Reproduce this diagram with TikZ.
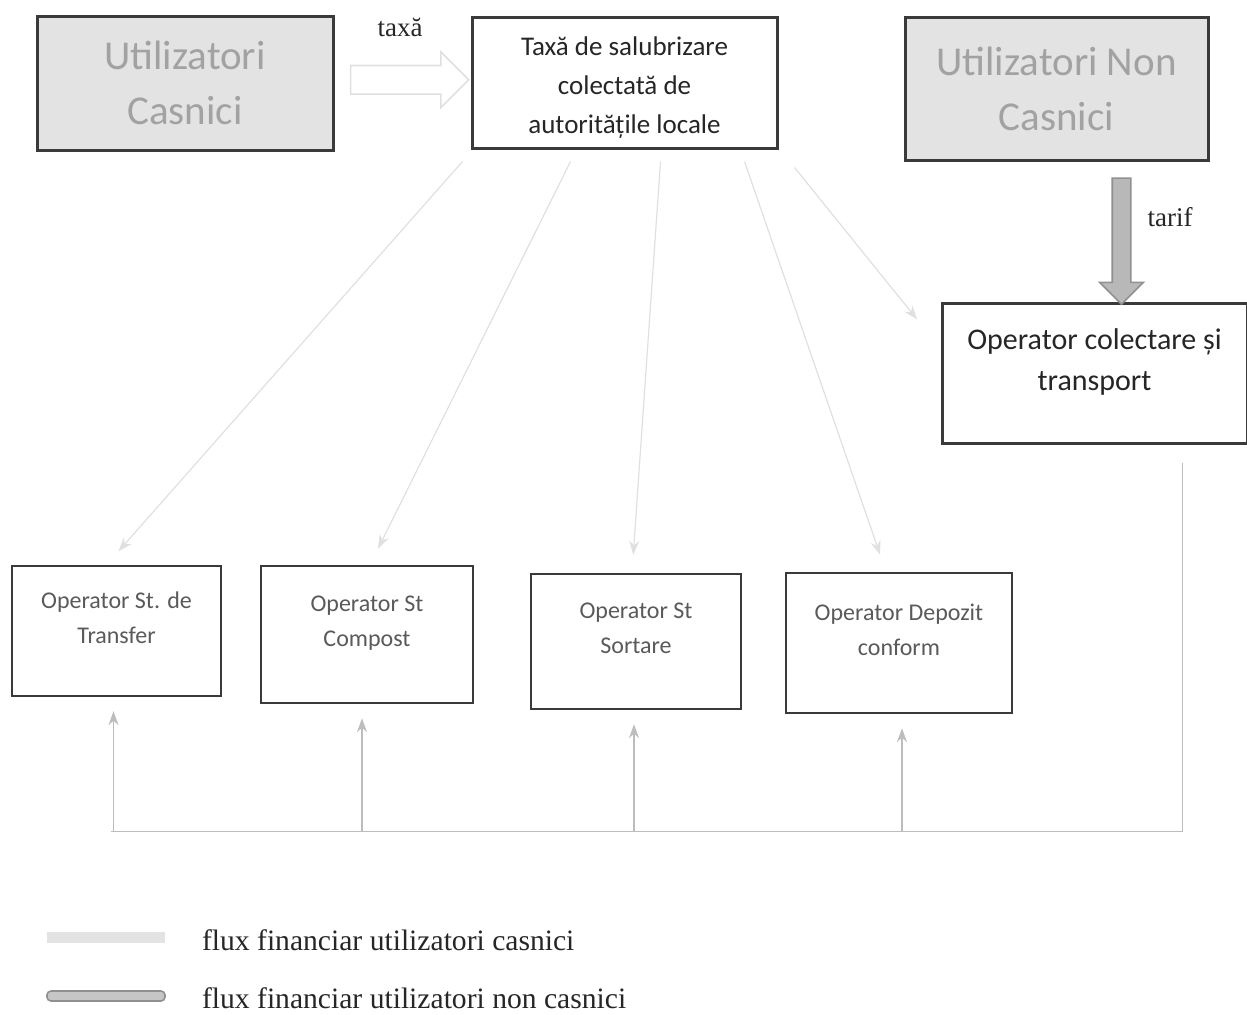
\documentclass[tikz,border=0pt]{standalone}
\usepackage{fontspec}
\setmainfont{Liberation Serif}
\newfontfamily\carlito{Carlito}
\usepackage{tikz}
\usetikzlibrary{arrows.meta,calc,shapes.arrows}

\definecolor{boxline}{HTML}{3A3A3A}
\definecolor{userfill}{HTML}{E3E3E3}
\definecolor{usertext}{HTML}{A2A2A2}
\definecolor{optext}{HTML}{5A5A5A}
\definecolor{hhline}{HTML}{E0E0E0}
\definecolor{nhline}{HTML}{BDBDBD}
\definecolor{tariffill}{HTML}{B8B8B8}
\definecolor{tarifline}{HTML}{909090}

\begin{document}
\begin{tikzpicture}[x=0.5pt,y=-0.5pt,>={Stealth[length=7pt,width=5pt]},
                    user node/.style={rectangle,draw=boxline,fill=userfill,line width=1.5pt,text=usertext,
                                      align=center,font=\carlito\fontsize{20.5}{27.5}\selectfont},
                    main node/.style={rectangle,draw=boxline,fill=white,line width=1.5pt,align=center,text=black!85},
                    op node/.style={main node,line width=1.2pt,text=optext,font=\carlito\fontsize{12}{17.5}\selectfont,text depth=13pt},
                    hh flow/.style={->,draw=hhline,line width=0.6pt,shorten >=9pt},
                    nh flow/.style={draw=nhline,line width=0.6pt},
                    lbl/.style={font=\fontsize{13.5}{16}\selectfont,text=black!85},
                    legend lbl/.style={font=\fontsize{14.8}{17}\selectfont,text=black!85,anchor=west}]
  \useasboundingbox (0,0) rectangle (1247,1014);

  % top row
  \node[user node, minimum width=148pt, minimum height=67pt] (uc) at (185,83) {Utilizatori\\Casnici};
  \node[main node, minimum width=152.5pt, minimum height=65.5pt, text height=53pt, font=\carlito\fontsize{13.5}{19.5}\selectfont] (taxa) at (624.5,82.5)
       {Taxă de salubrizare\\colectată de\\autoritățile locale};
  \node[user node, minimum width=151.5pt, minimum height=71.5pt] (unc) at (1056.5,88.5) {Utilizatori Non\\Casnici};
  \node[main node, minimum width=152.5pt, minimum height=70pt, text depth=13pt, font=\carlito\fontsize{15}{20.5}\selectfont] (colectare) at (1094.5,373)
       {Operator colectare și\\transport};

  % operators
  \node[op node, minimum width=104.5pt, minimum height=65pt] (transfer) at (116.5,631) {Operator St. de\\Transfer};
  \node[op node, minimum width=106pt, minimum height=68.5pt] (compost) at (367,634.5) {Operator St\\Compost};
  \node[op node, minimum width=105pt, minimum height=67.5pt] (sortare) at (636,641.5) {Operator St\\Sortare};
  \node[op node, minimum width=113pt, minimum height=70pt] (depozit) at (899,643) {Operator Depozit\\conform};

  % block arrows
  \node[single arrow, draw=hhline, line width=0.8pt, fill=white, inner sep=0pt, minimum height=59pt, minimum width=27pt,
        text height=13.5pt, single arrow head extend=6.75pt] (taxaarrow) at ($(uc.east)!0.5!(taxa.west)+(0,-3)$) {};
  \node[lbl] (taxalbl) at (400,27) {taxă};
  \node[single arrow, shape border rotate=270, draw=tarifline, line width=0.8pt, fill=tariffill, inner xsep=4.25pt, inner ysep=0pt,
        minimum height=63pt, minimum width=21pt, single arrow head extend=6.25pt] (tarifarrow) at ($(unc.south)+(65,75)$) {};
  \node[lbl] (tariflbl) at (1170,217) {tarif};

  % flux casnici
  \draw[hh flow] ($(taxa.south)+(-162,12)$) -- ($(transfer.north)+(-10,0)$);
  \draw[hh flow] ($(taxa.south)+(-54,12)$) -- ($(compost.north)+(3,0)$);
  \draw[hh flow] ($(taxa.south)+(36,12)$) -- ($(sortare.north)+(-4,0)$);
  \draw[hh flow] ($(taxa.south)+(120,12)$) -- ($(depozit.north)+(-13,0)$);
  \draw[hh flow] ($(taxa.south)+(170,18)$) -- ($(colectare.north west)+(-12,32)$);

  % flux non casnici
  \coordinate (busR) at ($(colectare.south)+(88,387)$);
  \draw[nh flow] ($(colectare.south)+(88,18)$) -- (busR) -- ($(busR -| transfer.south)+(-6,0)$);
  \draw[nh flow,->,shorten >=7pt] ($(busR -| transfer.south)+(-3,0)$) -- ($(transfer.south)+(-3,0)$);
  \draw[nh flow,->,shorten >=7pt] ($(busR -| compost.south)+(-5,0)$) -- ($(compost.south)+(-5,0)$);
  \draw[nh flow,->,shorten >=7pt] ($(busR -| sortare.south)+(-2,0)$) -- ($(sortare.south)+(-2,0)$);
  \draw[nh flow,->,shorten >=7pt] ($(busR -| depozit.south)+(3,0)$) -- ($(depozit.south)+(3,0)$);

  % legend
  \node[fill=userfill, inner sep=0pt, minimum width=59pt, minimum height=5.5pt] (bar1) at (106,937.5) {};
  \node[legend lbl] (leg1) at (195,940) {flux financiar utilizatori casnici};
  \node[fill=tariffill!80, draw=tarifline, line width=0.8pt, rounded corners=2pt, inner sep=0pt,
        minimum width=59pt, minimum height=5pt] (bar2) at (106,996) {};
  \node[legend lbl] (leg2) at (195,998) {flux financiar utilizatori non casnici};
\end{tikzpicture}
\end{document}
